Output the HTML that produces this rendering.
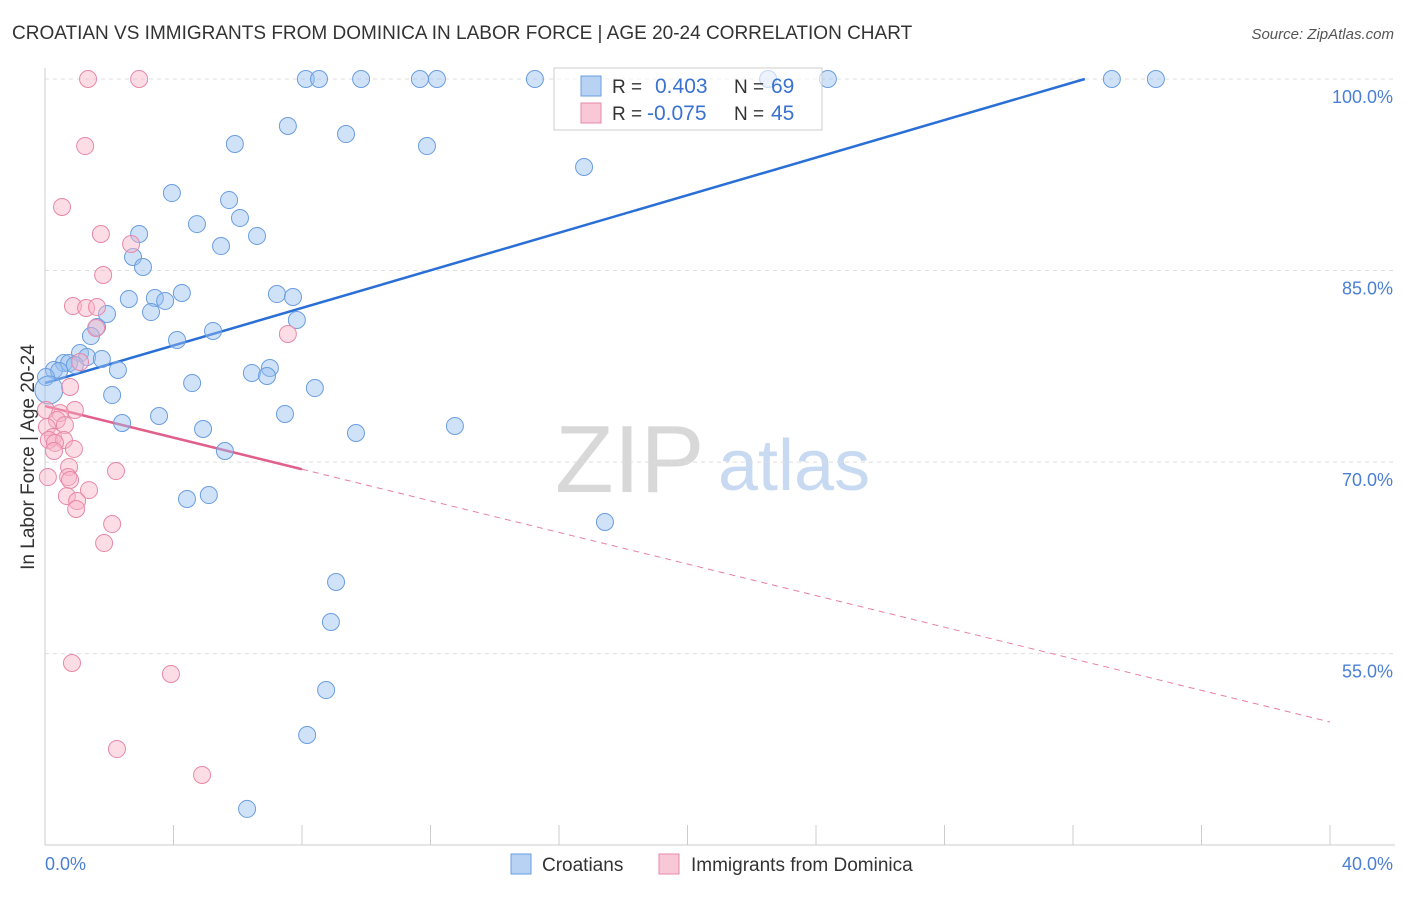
<!DOCTYPE html>
<html><head><meta charset="utf-8"><style>
body{margin:0;background:#fff;font-family:"Liberation Sans",sans-serif}
svg text{font-family:"Liberation Sans",sans-serif}
</style></head><body>
<svg id="chart" width="1406" height="892" xmlns="http://www.w3.org/2000/svg">
<text x="12" y="39" font-size="19" fill="#333">CROATIAN VS IMMIGRANTS FROM DOMINICA IN LABOR FORCE | AGE 20-24 CORRELATION CHART</text>
<text x="1394" y="39" font-size="15" fill="#555" text-anchor="end" font-style="italic">Source: ZipAtlas.com</text>
<text transform="translate(34,457) rotate(-90)" font-size="19" fill="#333" text-anchor="middle">In Labor Force | Age 20-24</text>
<g>
<text x="555" y="492" font-size="96" fill="#d8d8d8" font-family="Liberation Serif">ZIP</text>
<text x="718" y="490" font-size="72" fill="#c8daf2">atlas</text>
</g>
<g id="grid"></g>
<g id="axes"></g>
<g id="trends"></g>
<g id="points"></g>
<g>
<rect x="554" y="68" width="268" height="62" fill="rgba(255,255,255,0.6)" stroke="#ccc"/>
<rect x="581" y="76" width="20" height="20" fill="#b8d2f4" stroke="#6a9ee0"/>
<text x="612" y="93" font-size="19" fill="#333">R =</text>
<text x="655" y="93" font-size="21" fill="#3a72d0">0.403</text>
<text x="734" y="93" font-size="19" fill="#333">N =</text>
<text x="771" y="93" font-size="21" fill="#3a72d0">69</text>
<rect x="581" y="103" width="20" height="20" fill="#f9c8d6" stroke="#e888a8"/>
<text x="612" y="120" font-size="19" fill="#333">R =</text>
<text x="647" y="120" font-size="21" fill="#3a72d0">-0.075</text>
<text x="734" y="120" font-size="19" fill="#333">N =</text>
<text x="771" y="120" font-size="21" fill="#3a72d0">45</text>
</g>
<g>
<rect x="511" y="854" width="20" height="20" fill="#b8d2f4" stroke="#6a9ee0"/>
<text x="542" y="871" font-size="19" fill="#333">Croatians</text>
<rect x="659" y="854" width="20" height="20" fill="#f9c8d6" stroke="#e888a8"/>
<text x="691" y="871" font-size="19" fill="#333">Immigrants from Dominica</text>
</g>
</svg>
<script>
const yTicks=[100,85,70,55];
const yTickLabels=["100.0%","85.0%","70.0%","55.0%"];
const xTickVals=[0,4,8,12,16,20,24,28,32,36,40];
const xEndLabels=["0.0%","40.0%"];
const blueX=[8.12,8.53,9.84,11.67,12.20,15.25,22.51,24.37,33.21,34.58,7.56,9.37,5.91,11.89,16.78,3.95,5.73,4.73,6.07,2.93,6.60,5.48,2.74,3.05,4.26,2.61,3.42,3.74,7.22,7.72,1.93,3.30,7.84,1.62,5.23,1.43,4.11,1.09,1.31,1.77,0.59,0.75,0.93,0.28,0.44,2.27,0.03,6.44,7.00,6.91,4.58,8.40,2.09,7.47,3.55,2.40,4.92,9.68,12.76,5.60,4.42,5.10,17.43,9.06,8.90,8.75,8.16,6.29];
const blueY=[100,100,100,100,100,100,100,100,100,100,96.32,95.69,94.91,94.75,93.11,91.07,90.52,88.64,89.12,87.86,87.71,86.92,86.06,85.28,83.24,82.77,82.85,82.62,83.16,82.93,81.60,81.75,81.13,80.58,80.27,79.87,79.56,78.54,78.23,78.07,77.76,77.76,77.60,77.21,77.13,77.21,76.66,76.98,77.37,76.74,76.19,75.80,75.25,73.77,73.61,73.06,72.59,72.28,72.83,70.87,67.11,67.42,65.31,60.61,57.48,52.15,48.63,42.84];
const bigBlue=[0.12,75.65];
const pinkX=[1.34,2.93,1.25,0.53,1.74,2.68,1.81,0.87,1.28,1.62,1.59,7.56,1.09,0.78,0.03,0.93,0.47,0.37,0.62,0.06,0.25,0.12,0.59,0.31,0.90,0.28,2.21,0.75,0.72,0.78,0.09,1.37,0.68,1.00,0.97,2.09,1.84,0.84,3.92,2.24,4.89];
const pinkY=[100,100,94.75,89.98,87.86,87.08,84.65,82.22,82.07,82.15,80.50,80.03,77.84,75.88,74.08,74.08,73.84,73.30,72.90,72.75,71.97,71.73,71.73,71.50,71.03,70.87,69.30,69.62,68.83,68.60,68.83,67.81,67.34,66.95,66.33,65.15,63.66,54.27,53.41,47.53,45.50];
const blueTrend=[76.19,0.7356];
const pinkTrend=[74.39,-0.6185];
const pinkSolidEnd=8;

const NS="http://www.w3.org/2000/svg";
const X=v=>45+v/40*1285;
const Y=v=>79+(100-v)*12.77;
function mk(tag,attrs,parent){const e=document.createElementNS(NS,tag);for(const k in attrs)e.setAttribute(k,attrs[k]);document.getElementById(parent).appendChild(e);return e;}
yTicks.forEach((t,i)=>{
 const l=mk('line',{x1:45,x2:1395,y1:Y(t),y2:Y(t),stroke:'#ddd','stroke-dasharray':'4,4'},'grid');
 
 
 const tx=mk('text',{x:1393,y:Y(t)+24,'font-size':18,fill:'#4a7fd4','text-anchor':'end'},'grid');
 tx.textContent=yTickLabels[i];
 
 
});
const ya=mk('line',{x1:45,x2:45,y1:68,y2:845,stroke:'#ccc'},'axes');


const xa=mk('line',{x1:45,x2:1395,y1:845,y2:845,stroke:'#ccc'},'axes');


xTickVals.forEach(v=>{
 const t=mk('line',{x1:X(v),x2:X(v),y1:825,y2:845,stroke:'#ccc'},'axes');
 
 
});
const xl0=mk('text',{x:45,y:870,'font-size':18,fill:'#4a7fd4'},'axes');xl0.textContent=xEndLabels[0];


const xl1=mk('text',{x:1393,y:870,'font-size':18,fill:'#4a7fd4','text-anchor':'end'},'axes');xl1.textContent=xEndLabels[1];


blueX.forEach((x,i)=>{
 const c=mk('circle',{cx:X(x),cy:Y(blueY[i]),r:8.5,fill:'rgba(150,190,240,0.45)',stroke:'#6a9ee0','stroke-width':1},'points');
 
 
});
const bb=mk('circle',{cx:X(bigBlue[0]),cy:Y(bigBlue[1]),r:14,fill:'rgba(150,190,240,0.45)',stroke:'#6a9ee0'},'points');


pinkX.forEach((x,i)=>{
 const c=mk('circle',{cx:X(x),cy:Y(pinkY[i]),r:8.5,fill:'rgba(248,180,200,0.45)',stroke:'#e888a8','stroke-width':1},'points');
 
 
});
const bEnd=(100-blueTrend[0])/blueTrend[1];
const bt=mk('line',{x1:X(0),y1:Y(blueTrend[0]),x2:X(bEnd),y2:Y(100),stroke:'#2a6fd6','stroke-width':2.5},'trends');


const pv=x=>pinkTrend[0]+pinkTrend[1]*x;
const ps=mk('line',{x1:X(0),y1:Y(pv(0)),x2:X(pinkSolidEnd),y2:Y(pv(pinkSolidEnd)),stroke:'#e0608a','stroke-width':2.5},'trends');


const pd=mk('line',{x1:X(pinkSolidEnd),y1:Y(pv(pinkSolidEnd)),x2:X(40),y2:Y(pv(40)),stroke:'#e8809e','stroke-width':1,'stroke-dasharray':'6,5'},'trends');


</script>
</body></html>
